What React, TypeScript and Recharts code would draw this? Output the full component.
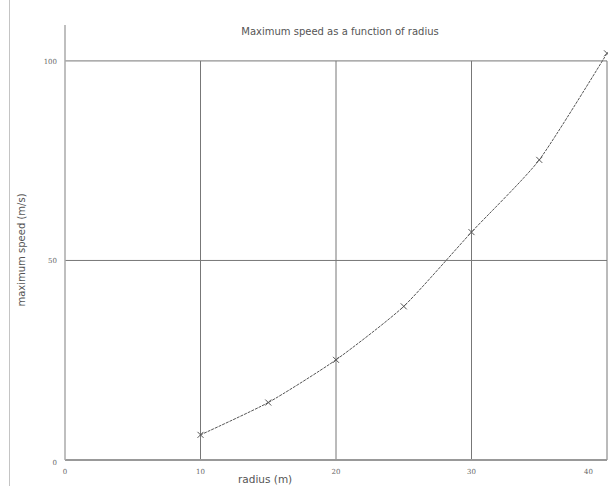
import React from 'react';
import { LineChart, Line, XAxis, YAxis, ReferenceLine } from 'recharts';

const radius = [10, 15, 20, 25, 30, 35, 40];
const speed = [6.3, 14.4, 25.1, 38.5, 57.1, 75.2, 101.9];
const xTicks = [0, 10, 20, 30, 40];
const yTicks = [0, 50, 100];
const xGrid = [10, 20, 30, 40];
const yGrid = [50, 100];

const data = radius.map((r, i) => ({ r, v: speed[i] }));

// cardinal curve (d3-shape compatible curve factory), tension 0.4
function cardinalCurve(context: any) {
  const k = (1 - 0.4) / 6;
  let x0 = NaN, x1 = NaN, x2 = NaN, y0 = NaN, y1 = NaN, y2 = NaN;
  let pt = 0;
  let ln: number = NaN;
  const seg = (x: number, y: number) => {
    context.bezierCurveTo(
      x1 + k * (x2 - x0),
      y1 + k * (y2 - y0),
      x2 + k * (x1 - x),
      y2 + k * (y1 - y),
      x2,
      y2
    );
  };
  return {
    areaStart() { ln = 0; },
    areaEnd() { ln = NaN; },
    lineStart() {
      x0 = x1 = x2 = y0 = y1 = y2 = NaN;
      pt = 0;
    },
    lineEnd() {
      if (pt === 2) context.lineTo(x2, y2);
      else if (pt === 3) seg(x1, y1);
      if (ln || (ln !== 0 && pt === 1)) context.closePath();
      ln = 1 - ln;
    },
    point(x: number, y: number) {
      x = +x; y = +y;
      if (pt === 0) {
        pt = 1;
        if (ln) context.lineTo(x, y); else context.moveTo(x, y);
      } else if (pt === 1) {
        pt = 2;
        x1 = x; y1 = y;
      } else {
        if (pt === 2) pt = 3;
        seg(x, y);
      }
      x0 = x1; x1 = x2; x2 = x;
      y0 = y1; y1 = y2; y2 = y;
    },
  };
}

const Cross = (props: any) => {
  const { cx, cy } = props;
  if (cx == null || cy == null) return null;
  const s = 3;
  return (
    <g stroke="#555" strokeWidth={1}>
      <line x1={cx - s} y1={cy - s} x2={cx + s} y2={cy + s} />
      <line x1={cx - s} y1={cy + s} x2={cx + s} y2={cy - s} />
    </g>
  );
};

const XTick = (props: any) => {
  const { x, y, payload, index } = props;
  const last = index === xTicks.length - 1;
  return (
    <text
      x={last ? x - 7 : x}
      y={y + 6}
      textAnchor={last ? 'end' : 'middle'}
      fontSize={7}
      fill="#666"
      fontFamily="DejaVu Serif"
    >
      {payload.value}
    </text>
  );
};

const YTick = (props: any) => {
  const { x, y, payload } = props;
  return (
    <text x={x} y={y + 3 + (payload.value === 0 ? 2 : 0)} textAnchor="end" fontSize={7} fill="#666" fontFamily="DejaVu Serif">
      {payload.value}
    </text>
  );
};

export default function App() {
  return (
    <div style={{ position: 'fixed', left: 0, top: 0, width: 608, height: 486, background: '#fff', overflow: 'hidden' }}>
      <div style={{ position: 'absolute', left: 9, top: 0, width: 1, height: 486, background: '#c4c4c4' }} />
      <LineChart
        width={608}
        height={486}
        data={data}
        margin={{ top: 25, right: 1, bottom: 0, left: 0 }}
      >
        {yGrid.map((g) => (
          <ReferenceLine key={'h' + g} y={g} stroke="#777" strokeWidth={1} />
        ))}
        {xGrid.map((g) => (
          <ReferenceLine
            key={'v' + g}
            segment={[
              { x: g, y: 0 },
              { x: g, y: yGrid[yGrid.length - 1] },
            ]}
            stroke="#777"
            strokeWidth={1}
          />
        ))}
        <XAxis
          dataKey="r"
          type="number"
          domain={[0, 40]}
          ticks={xTicks}
          height={26}
          tickLine={false}
          stroke="#999"
          strokeWidth={2}
          tick={<XTick />}
        />
        <YAxis
          type="number"
          domain={[0, 109]}
          ticks={yTicks}
          width={65}
          tickLine={false}
          stroke="#aaa"
          strokeWidth={1.5}
          tick={<YTick />}
        />
        <Line
          dataKey="v"
          type={cardinalCurve as any}
          stroke="#555"
          strokeWidth={1}
          strokeDasharray="3 1"
          dot={<Cross />}
          isAnimationActive={false}
        />
      </LineChart>
      <div
        style={{
          position: 'absolute',
          left: 0,
          width: 680,
          top: 26,
          textAlign: 'center',
          fontFamily: 'DejaVu Sans',
          fontSize: 10,
          color: '#555',
          lineHeight: '12px',
        }}
      >
        Maximum speed as a function of radius
      </div>
      <div
        style={{
          position: 'absolute',
          left: 238,
          top: 473,
          fontFamily: 'DejaVu Sans',
          fontSize: 10.5,
          color: '#555',
          lineHeight: '12px',
        }}
      >
        radius (m)
      </div>
      <div
        style={{
          position: 'absolute',
          left: 22,
          top: 250,
          transform: 'translate(-50%, -50%) rotate(-90deg)',
          whiteSpace: 'nowrap',
          fontFamily: 'DejaVu Sans',
          fontSize: 10,
          color: '#555',
          lineHeight: '12px',
        }}
      >
        maximum speed (m/s)
      </div>
    </div>
  );
}
